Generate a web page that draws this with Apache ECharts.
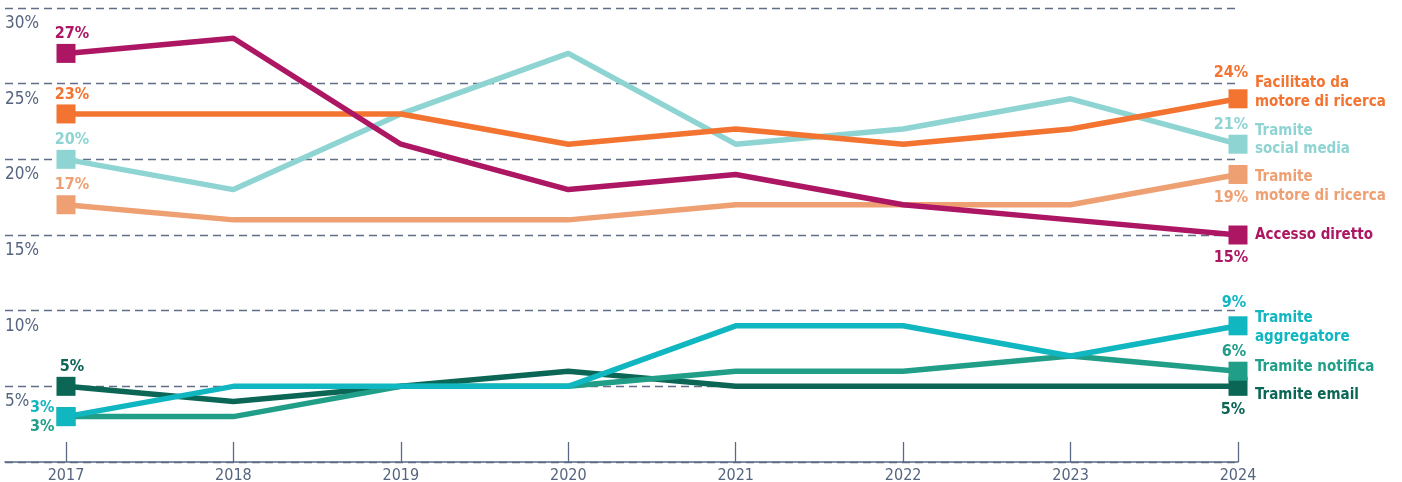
<!DOCTYPE html>
<html><head><meta charset="utf-8">
<script src="https://cdn.jsdelivr.net/npm/echarts@6/dist/echarts.min.js"></script>
<style>html,body{margin:0;padding:0;background:#fff}#c{width:1402px;height:482px}</style>
</head><body><div id="c"></div>
<script>
const years = ['2017','2018','2019','2020','2021','2022','2023','2024'];
const yTicks = [0,5,10,15,20,25,30];
const accessoDiretto = [27,28,21,18,19,17,16,15];
const facilitatoMotore = [23,23,23,21,22,21,22,24];
const socialMedia = [20,18,23,27,21,22,24,21];
const motoreRicerca = [17,16,16,16,17,17,17,19];
const aggregatore = [3,5,5,5,9,9,7,9];
const notifica = [3,3,5,5,6,6,7,6];
const email = [5,4,5,6,5,5,5,5];

const FONT = '"Liberation Sans Narrow", "DejaVu Sans Condensed", "Noto Sans", sans-serif';
const AXC = '#55657f';

const seriesDefs = [
  {name:'Tramite email', data:email, color:'#0b6656',
   first:{position:'top',offset:[6,0],d:2}, last:{position:'bottom',offset:[-5,0],d:6}, end:[0,9]},
  {name:'Tramite notifica', data:notifica, color:'#219e88',
   first:{position:'left',offset:[0,10],d:2}, last:{position:'top',offset:[-4,0],d:2}, end:[0,-4]},
  {name:'Tramite\naggregatore', data:aggregatore, color:'#10b6c0',
   first:{position:'left',offset:[0,-9],d:2}, last:{position:'top',offset:[-4,0],d:5}, end:[0,2]},
  {name:'Tramite\nmotore di ricerca', data:motoreRicerca, color:'#eea072',
   first:{position:'top',offset:[6,0],d:2}, last:{position:'bottom',offset:[-7,0],d:6}, end:[0,12]},
  {name:'Tramite\nsocial media', data:socialMedia, color:'#8ed4d3',
   first:{position:'top',offset:[6,0],d:2}, last:{position:'top',offset:[-7,0],d:2}, end:[0,-4]},
  {name:'Facilitato da\nmotore di ricerca', data:facilitatoMotore, color:'#f37330',
   first:{position:'top',offset:[6,0],d:2}, last:{position:'top',offset:[-7,0],d:8}, end:[0,-6]},
  {name:'Accesso diretto', data:accessoDiretto, color:'#ac1662',
   first:{position:'top',offset:[6,0],d:2}, last:{position:'bottom',offset:[-7,0],d:5}, end:[0,0]}
];

const series = seriesDefs.map(d => {
  const n = d.data.length;
  return {
    type:'line', name:d.name, xAxisIndex:1, yAxisIndex:1,
    symbol:'rect', symbolSize:(v,p)=> (p.dataIndex===0||p.dataIndex===n-1)?19:0,
    showSymbol:true, silent:true,
    lineStyle:{color:d.color,width:5.5}, itemStyle:{color:d.color},
    data:d.data.map((v,i)=>{
      if(i===0||i===n-1){
        const c = i===0?d.first:d.last;
        return {value:v,label:{show:true,position:c.position,offset:c.offset,distance:c.d,
          formatter:'{c}%',color:d.color,fontFamily:FONT,fontWeight:'bold',fontSize:16}};
      }
      return {value:v};
    }),
    endLabel:{show:true,formatter:()=>d.name,color:d.color,fontFamily:FONT,fontWeight:'bold',
      fontSize:15,lineHeight:18.5,offset:d.end,distance:17,align:'left'}
  };
});

const chart = echarts.init(document.getElementById('c'),null,{renderer:'canvas'});
chart.setOption({
  animation:false,
  grid:[
    {left:5,right:164,top:8,bottom:20,containLabel:false,outerBoundsMode:'none'},
    {left:66,right:164,top:8,bottom:20,containLabel:false,outerBoundsMode:'none'}
  ],
  xAxis:[
    {gridIndex:0,type:'value',min:0,max:1,axisLabel:{show:false},axisTick:{show:false},splitLine:{show:false},
     axisLine:{show:true,lineStyle:{color:'#5a6a84',width:1.5}}},
    {gridIndex:1,type:'category',data:years,boundaryGap:false,
     axisLine:{show:false},
     axisTick:{show:true,inside:true,length:20,alignWithLabel:true,lineStyle:{color:'#5a6a84',width:1.3}},
     axisLabel:{color:AXC,fontFamily:FONT,fontSize:16,margin:6,interval:0},
     splitLine:{show:false}}
  ],
  yAxis:[
    {gridIndex:0,type:'value',min:0,max:30,interval:5,
     axisLine:{show:false},axisTick:{show:false},
     axisLabel:{inside:true,margin:0,verticalAlign:'top',padding:[7,0,0,0],color:AXC,fontFamily:FONT,fontSize:17,
       formatter:v=> v===0?'':v+'%'},
     splitLine:{show:true,lineStyle:{color:'#5f6f87',width:1.4,type:[8,5]}}},
    {gridIndex:1,type:'value',min:0,max:30,interval:5,show:false,splitLine:{show:false}}
  ],
  series:series
});
</script></body></html>
